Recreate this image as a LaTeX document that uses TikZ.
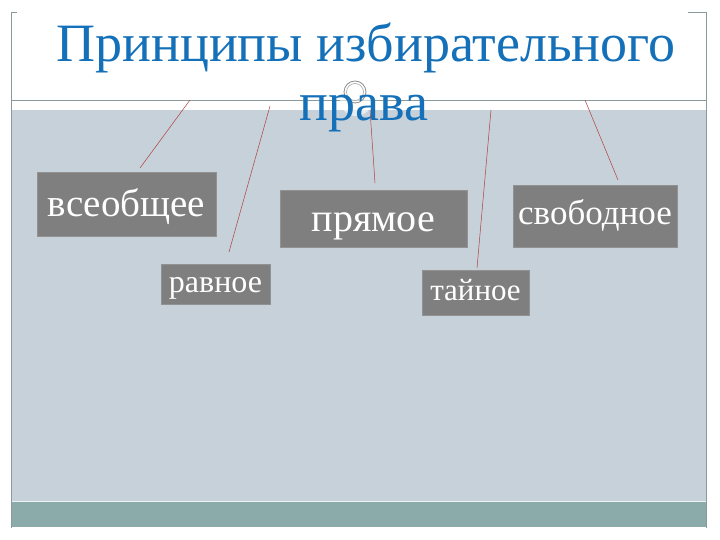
\documentclass[tikz,border=0pt]{standalone}
\usepackage{fontspec}
\setmainfont{Liberation Serif}
\definecolor{bodyc}{HTML}{C6D1D9}
\definecolor{bandc}{HTML}{8AABAA}
\definecolor{boxc}{HTML}{7F7F7F}
\definecolor{titlec}{HTML}{1470B8}
\definecolor{linkc}{HTML}{B04040}
\definecolor{framec}{HTML}{8A9A9A}
\begin{document}
\begin{tikzpicture}[x=1pt,y=-1pt,
  box/.style={fill=boxc,draw=boxc!85!white,line width=0.6pt,text=white,inner sep=0pt,anchor=center,text depth=0pt},
  link/.style={draw=linkc,line width=0.5pt}]
\useasboundingbox (0,0) rectangle (720,540);
\fill[white] (0,0) rectangle (720,540);
% body
\fill[bodyc] (11.5,110) rectangle (706,502);
\fill[bandc] (11.5,502) rectangle (706,527);
\draw[white!70!bodyc,line width=1pt] (11.5,501.5) -- (706,501.5);
% frame
\draw[framec,line width=0.6pt] (17,12) -- (11.5,12) -- (11.5,528);
\draw[framec,line width=0.6pt] (688,12) -- (706,12) -- (706,528);
\draw[framec,line width=0.8pt] (11.5,100) -- (706,100);
% ornament
\fill[white,opacity=0.6] (356,100) circle (16);
\draw[gray!90,line width=0.8pt] (355,92) circle (11);
\draw[gray!70,line width=0.6pt] (355,92) circle (8.5);
% title
\node[text=titlec,font=\fontsize{54}{58}\selectfont,anchor=base,inner sep=0pt] (t1) at (366,62) {Принципы избирательного};
\node[text=titlec,font=\fontsize{54}{58}\selectfont,anchor=base,inner sep=0pt] (t2) at (364,121) {права};
% boxes
\node[box,minimum width=179,minimum height=64,text height=26pt,font=\fontsize{39}{39}\selectfont] (vse) at (126.5,204) {всеобщее};
\node[box,minimum width=109,minimum height=40,text height=16pt,font=\fontsize{32}{32}\selectfont] (rav) at (215.5,284) {равное};
\node[box,minimum width=187,minimum height=57,text height=27pt,font=\fontsize{40}{40}\selectfont] (pry) at (373.5,218.5) {прямое};
\node[box,minimum width=164,minimum height=62,text height=18pt,font=\fontsize{35}{35}\selectfont] (svo) at (595,216) {свободное};
\node[box,minimum width=107,minimum height=45,text height=15pt,font=\fontsize{31}{31}\selectfont] (tai) at (475.5,292.5) {тайное};
% connectors
\coordinate (a1) at (190,100);
\coordinate (a2) at (270,106);
\coordinate (a3) at (370,110);
\coordinate (a4) at (491,110);
\coordinate (a5) at (585,100);
\coordinate (b1) at (140,168);
\coordinate (b2) at (229,252);
\coordinate (b3) at (375,183);
\coordinate (b4) at (477,268);
\coordinate (b5) at (618,180);
\draw[link] (a1) -- (b1);
\draw[link] (a2) -- (b2);
\draw[link] (a3) -- (b3);
\draw[link] (a4) -- (b4);
\draw[link] (a5) -- (b5);
\end{tikzpicture}
\end{document}
